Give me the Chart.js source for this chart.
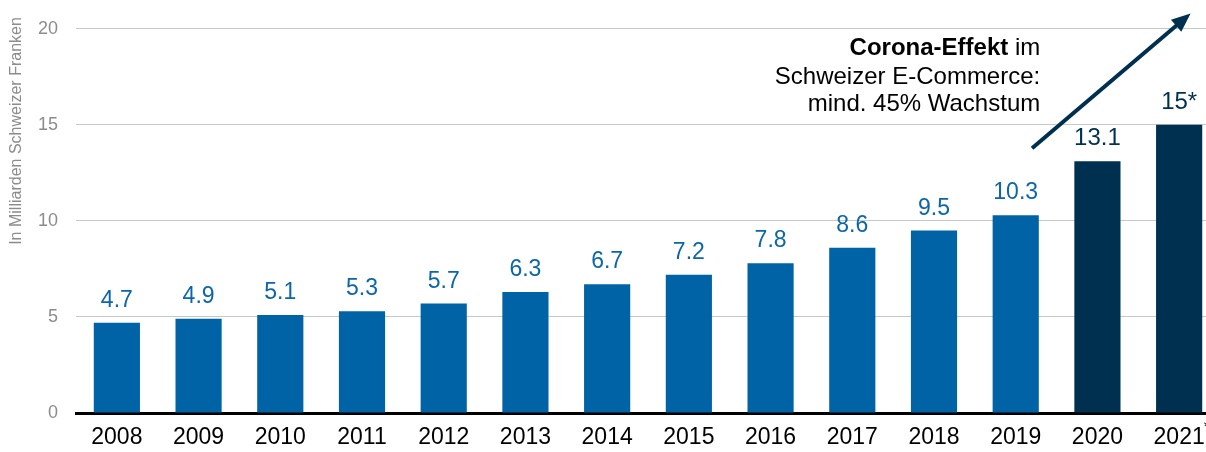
<!DOCTYPE html>
<html>
<head>
<meta charset="utf-8">
<script src="https://cdn.jsdelivr.net/npm/chart.js@4/dist/chart.umd.min.js"></script>
<style>
html,body{margin:0;padding:0;overflow:hidden;background:#fff;}
#wrap{width:1220px;height:452px;position:relative;}
</style>
</head>
<body>
<div id="wrap"><canvas id="c"></canvas></div>
<script>
const categories = ['2008','2009','2010','2011','2012','2013','2014','2015','2016','2017','2018','2019','2020','2021'];
const values = [4.7,4.9,5.1,5.3,5.7,6.3,6.7,7.2,7.8,8.6,9.5,10.3,13.1,15];
const valueLabels = ['4.7','4.9','5.1','5.3','5.7','6.3','6.7','7.2','7.8','8.6','9.5','10.3','13.1','15*'];
const highlighted = [false,false,false,false,false,false,false,false,false,false,false,false,true,true];
const yTicks = [0,5,10,15,20];
const yTitle = 'In Milliarden Schweizer Franken';
const noteLines = [[['Corona-Effekt', true], [' im', false]], [['Schweizer E-Commerce:', false]], [['mind. 45% Wachstum', false]]];

const BLUE = '#0063A6', DARK = '#00304F', LBLUE = '#0b66aa';
const FONT = '"Liberation Sans", Arial, sans-serif';

const overlay = {
  id: 'overlay',
  afterDatasetsDraw(chart) {
    const ctx = chart.ctx;
    const meta = chart.getDatasetMeta(0);
    const xs = chart.scales.x, ys = chart.scales.y;
    ctx.save();
    // value labels
    meta.data.forEach((bar, i) => {
      ctx.font = (highlighted[i] ? '24px ' : '23px ') + FONT;
      ctx.fillStyle = highlighted[i] ? DARK : LBLUE;
      ctx.textAlign = 'center';
      ctx.textBaseline = 'alphabetic';
      ctx.fillText(valueLabels[i], bar.x, bar.y - 16);
    });
    // y axis title
    ctx.save();
    ctx.translate(17, 131);
    ctx.rotate(-Math.PI / 2);
    ctx.font = '16px ' + FONT;
    ctx.fillStyle = '#8c8c8c';
    ctx.textAlign = 'center';
    ctx.textBaseline = 'middle';
    ctx.fillText(yTitle, 0, 0);
    ctx.restore();
    // asterisk on last x label
    ctx.font = '23px ' + FONT;
    const lastX = xs.getPixelForTick(categories.length - 1) + ctx.measureText(categories[categories.length - 1]).width / 2;
    ctx.font = '14px ' + FONT;
    ctx.fillStyle = '#000';
    ctx.textAlign = 'left';
    ctx.fillText('*', lastX - 1, 431);
    // arrow
    const x0 = xs.getPixelForValue(11.2), y0 = ys.getPixelForValue(13.78);
    const x1 = xs.getPixelForValue(13.14), y1 = ys.getPixelForValue(20.8);
    const ang = Math.atan2(y1 - y0, x1 - x0);
    const hl = 19, hw = 8;
    const bx = x1 - hl * Math.cos(ang), by = y1 - hl * Math.sin(ang);
    ctx.strokeStyle = DARK;
    ctx.lineWidth = 4;
    ctx.beginPath();
    ctx.moveTo(x0, y0);
    ctx.lineTo(bx + 2 * Math.cos(ang), by + 2 * Math.sin(ang));
    ctx.stroke();
    ctx.fillStyle = DARK;
    ctx.beginPath();
    ctx.moveTo(x1, y1);
    ctx.lineTo(bx + hw * Math.sin(ang), by - hw * Math.cos(ang));
    ctx.lineTo(bx - hw * Math.sin(ang), by + hw * Math.cos(ang));
    ctx.closePath();
    ctx.fill();
    // annotation text, right aligned
    const rx = xs.getPixelForValue(11.3);
    const baseY = [ys.getPixelForValue(18.62), ys.getPixelForValue(17.12), ys.getPixelForValue(15.72)];
    ctx.textBaseline = 'alphabetic';
    ctx.textAlign = 'left';
    ctx.fillStyle = '#000';
    noteLines.forEach((parts, li) => {
      let total = 0;
      parts.forEach(p => { ctx.font = (p[1] ? 'bold ' : '') + '24px ' + FONT; total += ctx.measureText(p[0]).width; });
      let x = rx - total;
      parts.forEach(p => {
        ctx.font = (p[1] ? 'bold ' : '') + '24px ' + FONT;
        ctx.fillText(p[0], x, baseY[li]);
        x += ctx.measureText(p[0]).width;
      });
    });
    ctx.restore();
  }
};

new Chart(document.getElementById('c'), {
  type: 'bar',
  data: {
    labels: categories,
    datasets: [{
      data: values,
      backgroundColor: highlighted.map(h => h ? DARK : BLUE),
      barPercentage: 0.565,
      categoryPercentage: 1.0,
      borderWidth: 0
    }]
  },
  options: {
    responsive: true,
    maintainAspectRatio: false,
    animation: false,
    devicePixelRatio: 1,
    layout: { padding: { top: 26, right: 0, left: 0, bottom: 0 } },
    plugins: { legend: { display: false }, tooltip: { enabled: false } },
    scales: {
      x: {
        grid: { display: false, drawTicks: false },
        border: { display: true, color: '#000', width: 3 },
        ticks: { color: '#000', font: { family: FONT, size: 23 }, padding: 11, maxRotation: 0, autoSkip: false },
        afterFit(s) { s.height = 39; }
      },
      y: {
        min: 0, max: 20,
        afterBuildTicks(s) { s.ticks = yTicks.map(v => ({ value: v })); },
        grid: { color: '#c8c8c8', lineWidth: 1, drawTicks: false },
        border: { display: false },
        ticks: { color: '#8c8c8c', font: { family: FONT, size: 18 }, padding: 18 },
        afterFit(s) { s.width = 76; }
      }
    }
  },
  plugins: [overlay]
});
</script>
</body>
</html>
